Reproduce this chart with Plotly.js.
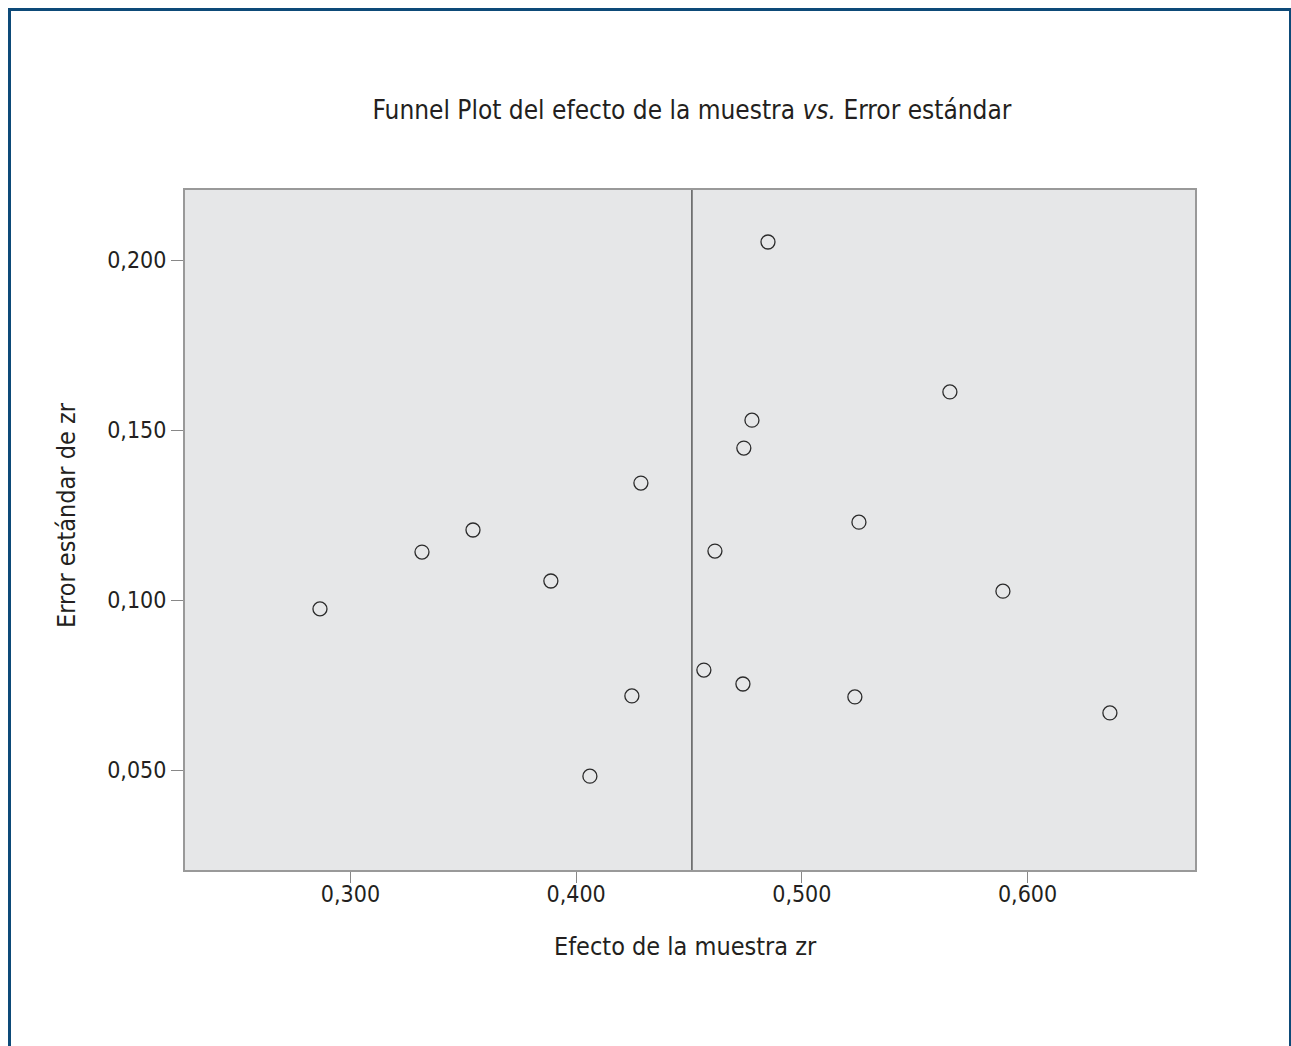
<!DOCTYPE html>
<html>
<head>
<meta charset="utf-8">
<script src="https://cdn.plot.ly/plotly-3.0.1.min.js"></script>
<style>
html,body{margin:0;padding:0;background:#fff;overflow:hidden;}
#frame{position:absolute;left:8px;top:8px;width:1278px;height:1100px;border-left:3px solid #0d4a78;border-top:3px solid #0d4a78;border-right:2px solid #0d4a78;pointer-events:none;z-index:10;}
#chart{position:absolute;left:0;top:0;width:1291px;height:1046px;}
</style>
</head>
<body>
<div id="chart"></div>
<div id="frame"></div>
<script>
const efecto = [0.2865, 0.3317, 0.3543, 0.3888, 0.4061, 0.4247, 0.4287, 0.4566, 0.4615, 0.4739, 0.4743, 0.4779, 0.4850, 0.5235, 0.5253, 0.5656, 0.5891, 0.6365];
const errorStd = [0.0974, 0.1141, 0.1206, 0.1056, 0.0482, 0.0718, 0.1344, 0.0794, 0.1144, 0.0753, 0.1447, 0.1529, 0.2053, 0.0715, 0.1229, 0.1612, 0.1026, 0.0668];
const efectoMedio = 0.4513;
const xTicks = [0.3, 0.4, 0.5, 0.6];
const yTicks = [0.05, 0.10, 0.15, 0.20];
const xTitle = 'Efecto de la muestra zr';
const yTitle = 'Error estándar de zr';
const chartTitle = 'Funnel Plot del efecto de la muestra <i>vs.</i> Error estándar';

const FONT = '"Liberation Sans Narrow", "DejaVu Sans Condensed", "Roboto Condensed", sans-serif';
const TXT = '#231f20';

const trace = {
  type: 'scatter', mode: 'markers',
  x: efecto, y: errorStd,
  marker: {symbol: 'circle-open', size: 14, color: '#2b2b2b', line: {width: 1.3, color: '#2b2b2b'}},
  hoverinfo: 'x+y'
};

const layout = {
  width: 1291, height: 1046,
  paper_bgcolor: '#ffffff', plot_bgcolor: '#e6e7e8',
  separators: ',.',
  margin: {l: 185, r: 96, t: 190, b: 176},
  showlegend: false,
  font: {family: FONT, color: TXT, size: 20},
  title: {text: chartTitle,
          font: {family: FONT, size: 26, color: TXT},
          xref: 'container', yref: 'container', x: 0.536, xanchor: 'center', y: 1 - 110/1046, yanchor: 'middle'},
  xaxis: {
    range: [0.2267, 0.6742], tickvals: xTicks, tickformat: '.3f',
    ticks: 'outside', ticklen: 11, tickcolor: '#888', tickwidth: 1, ticklabelstandoff: -9,
    showgrid: false, zeroline: false, showline: true, linecolor: '#999', linewidth: 2, mirror: true,
    tickfont: {family: FONT, size: 23, color: TXT}
  },
  yaxis: {
    range: [0.0206, 0.2206], tickvals: yTicks, tickformat: '.3f',
    ticks: 'outside', ticklen: 12, tickcolor: '#888', tickwidth: 1,
    showgrid: false, zeroline: false, showline: true, linecolor: '#999', linewidth: 2, mirror: true,
    tickfont: {family: FONT, size: 23, color: TXT}
  },
  annotations: [
    {text: xTitle, xref: 'paper', yref: 'paper', x: (685 - 185) / 1010, y: -(946 - 870) / 680,
     xanchor: 'center', yanchor: 'middle', showarrow: false, font: {family: FONT, size: 25, color: TXT}},
    {text: yTitle, xref: 'paper', yref: 'paper', x: (66 - 185) / 1010, y: (870 - 515) / 680,
     xanchor: 'center', yanchor: 'middle', textangle: -90, showarrow: false, font: {family: FONT, size: 25, color: TXT}}
  ],
  shapes: [{type: 'line', xref: 'x', yref: 'paper', x0: efectoMedio, x1: efectoMedio, y0: 0, y1: 1,
            line: {color: '#444', width: 1.3}}]
};

Plotly.newPlot('chart', [trace], layout, {displayModeBar: false});
</script>
</body>
</html>
